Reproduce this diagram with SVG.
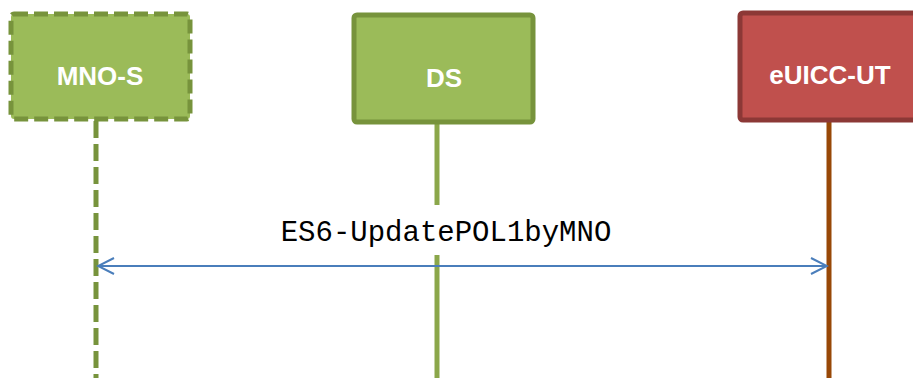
<svg xmlns="http://www.w3.org/2000/svg" width="913" height="378" viewBox="0 0 913 378">
<defs>
<style>
.lbl{font-family:"Liberation Sans",Arial,sans-serif;font-weight:bold;font-size:26px;fill:#FFFFFF;text-anchor:middle}
.msg{font-family:"Liberation Mono","Courier New",monospace;font-size:29px;fill:#000000;text-anchor:middle}
.green{fill:#9BBB59;stroke:#77933C;stroke-width:5}
.red{fill:#C0504D;stroke:#8C3836;stroke-width:5}
</style>
<marker id="open" viewBox="0 0 20 20" refX="18" refY="10" markerWidth="20" markerHeight="20" markerUnits="userSpaceOnUse" orient="auto-start-reverse">
<path d="M2 2 L18 10 L2 18" fill="none" stroke="#4A7EBB" stroke-width="2"/>
</marker>
</defs>
<g id="connectors">
<line x1="96" y1="121" x2="96" y2="378" stroke="#77933C" stroke-width="5" stroke-dasharray="17 6"/>
<line x1="437" y1="124" x2="437" y2="205" stroke="#8BA74A" stroke-width="5"/>
<line x1="437" y1="255" x2="437" y2="378" stroke="#8BA74A" stroke-width="5"/>
<line x1="829" y1="122" x2="829" y2="378" stroke="#984807" stroke-width="5"/>
<line x1="98" y1="266" x2="827" y2="266" stroke="#4A7EBB" stroke-width="2" marker-start="url(#open)" marker-end="url(#open)"/>
<text class="msg" x="446" y="241">ES6-UpdatePOL1byMNO</text>
</g>
<g id="mno-s">
<rect class="green" x="11" y="14" width="179" height="105" rx="3" stroke-dasharray="14 6"/>
<text class="lbl" x="100" y="85">MNO-S</text>
</g>
<g id="ds">
<rect class="green" x="354" y="15" width="179" height="107" rx="3"/>
<text class="lbl" x="444" y="87">DS</text>
</g>
<g id="euicc-ut">
<rect class="red" x="740" y="13" width="180" height="107" rx="3"/>
<text class="lbl" x="830" y="84">eUICC-UT</text>
</g>
</svg>
